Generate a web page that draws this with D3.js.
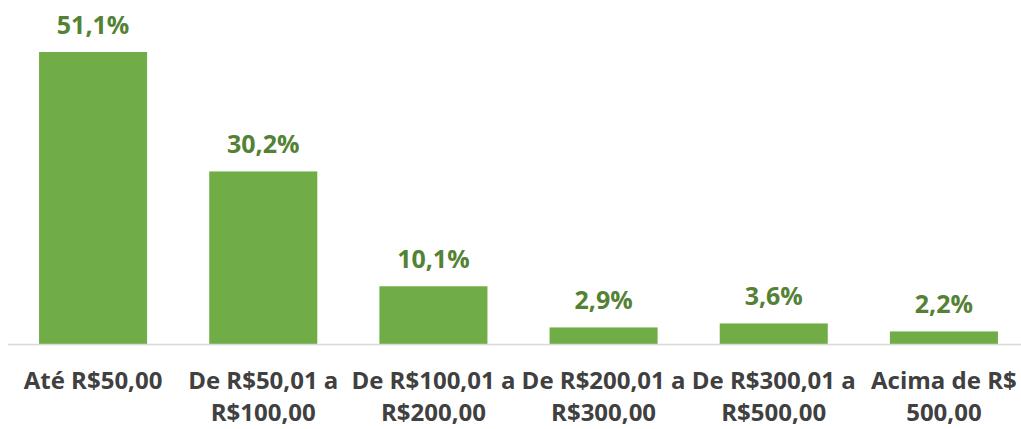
<!DOCTYPE html>
<html>
  <head>
    <title>faixas de valor</title>
    <meta charset="UTF-8" />
    <script src="https://d3js.org/d3.v7.min.js"></script>
    <style>
        body { margin: 0; background: #fff; }
        .bar { fill: #70AD47; }
        .value { fill: #548235; font-family: "Open Sans", sans-serif; font-weight: bold; font-size: 25px; }
        .cat { fill: #404040; font-family: "Open Sans", sans-serif; font-weight: bold; font-size: 24px; }
    </style>
  </head>
  <body>
    <script>
        // categories (each label already split into its two lines)
        var categories = ["Até R$50,00", "De R$50,01 a R$100,00", "De R$100,01 a R$200,00",
                          "De R$200,01 a R$300,00", "De R$300,01 a R$500,00", "Acima de R$ 500,00"]
        var catLines = [
            ["Até R$50,00"],
            ["De R$50,01 a", "R$100,00"],
            ["De R$100,01 a", "R$200,00"],
            ["De R$200,01 a", "R$300,00"],
            ["De R$300,01 a", "R$500,00"],
            ["Acima de R$", "500,00"]
        ]
        var values = [51.1, 30.2, 10.1, 2.9, 3.6, 2.2]
        var valueLabels = ["51,1%", "30,2%", "10,1%", "2,9%", "3,6%", "2,2%"]

        var width = 1021
        var height = 429

        var svg = d3.select("body")
            .append("svg")
            .attr("width", width)
            .attr("height", height)

        var baseY = 344

        var xScale = d3.scaleBand()
            .domain(categories)
            .range([8, 1029])
            .paddingInner(0.365)
            .paddingOuter(0.1825)

        var yScale = d3.scaleLinear()
            .domain([0, 51.1])
            .range([baseY, 52])

        svg.selectAll("rect")
            .data(values)
            .enter()
            .append("rect")
            .attr("class", "bar")
            .attr("x", (d, i) => xScale(categories[i]))
            .attr("y", d => yScale(d))
            .attr("width", xScale.bandwidth())
            .attr("height", d => baseY - yScale(d))

        // axis line
        svg.append("line")
            .attr("x1", 8).attr("x2", width)
            .attr("y1", baseY + 0.5).attr("y2", baseY + 0.5)
            .attr("stroke", "#D9D9D9")
            .attr("stroke-width", 1.5)

        svg.selectAll(".value")
            .data(values)
            .enter()
            .append("text")
            .attr("class", "value")
            .attr("text-anchor", "middle")
            .attr("x", (d, i) => xScale(categories[i]) + xScale.bandwidth() / 2)
            .attr("y", d => yScale(d) - 18)
            .text((d, i) => valueLabels[i])

        var cats = svg.selectAll(".cat")
            .data(catLines)
            .enter()
            .append("text")
            .attr("class", "cat")
            .attr("text-anchor", "middle")
            .attr("x", (d, i) => xScale(categories[i]) + xScale.bandwidth() / 2)
            .attr("y", 389)

        cats.selectAll("tspan")
            .data(d => d)
            .enter()
            .append("tspan")
            .attr("x", function() { return this.parentNode.getAttribute("x") })
            .attr("dy", (d, j) => j == 0 ? 0 : 32)
            .text(d => d)
    </script>
  </body>
</html>
